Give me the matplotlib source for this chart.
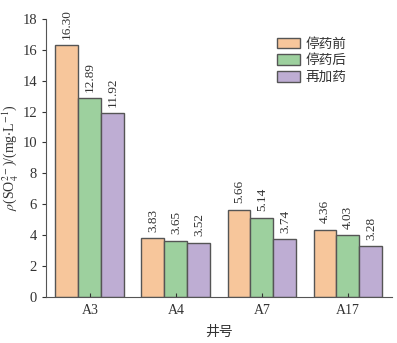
import numpy as np
import matplotlib
matplotlib.use('Agg')
import matplotlib.pyplot as plt

plt.rcParams['font.family'] = ['Liberation Serif', 'Noto Sans CJK SC']
plt.rcParams['mathtext.fontset'] = 'stix'

wells = ['A3', 'A4', 'A7', 'A17']
before = [16.30, 3.83, 5.66, 4.36]
after = [12.89, 3.65, 5.14, 4.03]
readd = [11.92, 3.52, 3.74, 3.28]
series_names = ['停药前', '停药后', '再加药']
colors = ['#F7C69B', '#9DD09E', '#BEADD3']

fig = plt.figure(figsize=(3.97, 3.43), dpi=100)
ax = fig.add_axes([0.116, 0.134, 0.871, 0.811])

x = np.arange(len(wells))
w = 0.267
for i, (vals, name, c) in enumerate(zip([before, after, readd], series_names, colors)):
    pos = x + (i - 1) * w
    ax.bar(pos, vals, width=w, color=c, edgecolor='#555555', linewidth=1.0, label=name)
    for p, v in zip(pos, vals):
        ax.text(p, v + 0.4, f'{v:.2f}', rotation=90, ha='center', va='bottom',
                fontsize=9.5, color='#333333')

ax.set_xlim(-0.51, 3.51)
ax.set_ylim(0, 18)
ax.set_yticks(range(0, 19, 2))
ax.set_xticks(x)
ax.set_xticklabels(wells)
ax.spines['top'].set_visible(False)
ax.spines['right'].set_visible(False)
for s in ['left', 'bottom']:
    ax.spines[s].set_color('#555555')
ax.tick_params(axis='y', direction='out', length=3, labelsize=10.5, colors='#333333')
ax.tick_params(axis='x', direction='in', length=3, labelsize=10, colors='#333333', pad=5)

ax.set_ylabel(r'$\rho$(SO$_4^{2-}$)/(mg$\cdot$L$^{-1}$)', fontsize=10, color='#333333', labelpad=2)
ax.set_xlabel('井号', fontsize=10, color='#333333', family=['Noto Sans CJK SC'], labelpad=6)

leg = ax.legend(loc='upper right', bbox_to_anchor=(0.905, 0.98), frameon=False,
                prop={'family': 'Noto Sans CJK SC', 'size': 9.8},
                handlelength=1.75, handleheight=0.85, handletextpad=0.4, labelspacing=0.2)
for t in leg.get_texts():
    t.set_color('#333333')

fig.savefig('out.png', dpi=100)
